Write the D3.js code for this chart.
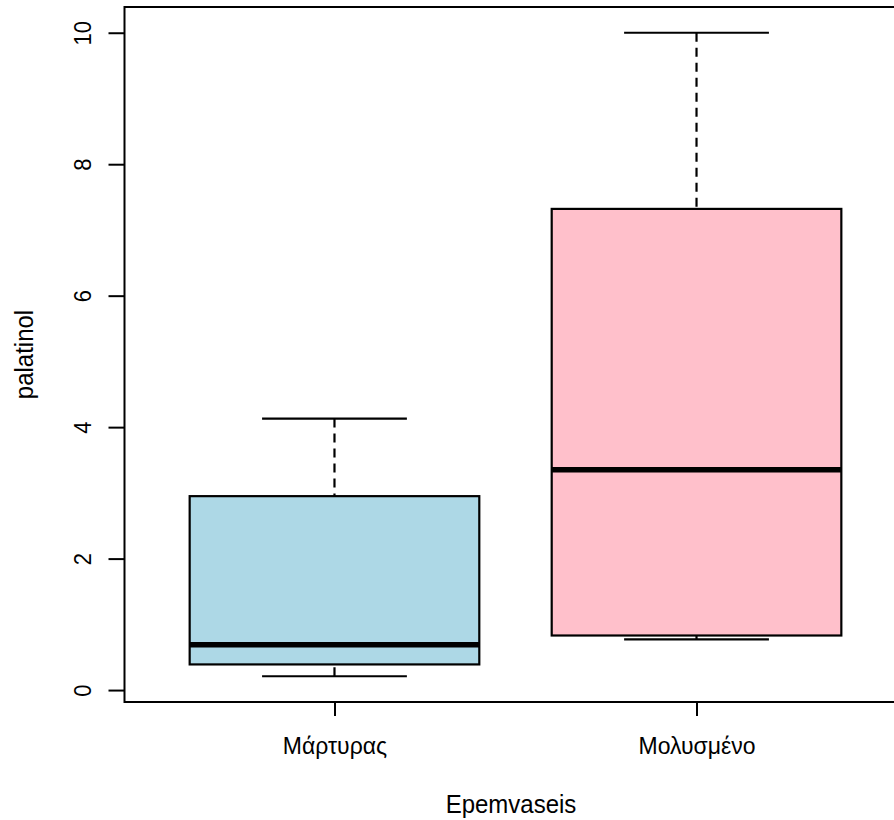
<!DOCTYPE html>
<html>
<head>
<meta charset="utf-8">
<script src="https://cdn.jsdelivr.net/npm/d3@7"></script>
<style>
  html, body { margin: 0; padding: 0; background: #fff; }
  svg { display: block; }
  text { font-family: "Liberation Sans", Arial, sans-serif; fill: #000; }
</style>
</head>
<body>
<svg id="chart" width="894" height="820"></svg>
<script>
// Groups and their five-number summaries
const groups = ["Μάρτυρας", "Μολυσμένο"];
const lowerWhisker = [0.21, 0.77];
const q1 = [0.39, 0.83];
const median = [0.69, 3.35];
const q3 = [2.95, 7.32];
const upperWhisker = [4.13, 10.0];
const fills = ["#ADD8E6", "#FFC0CB"];
const yTicks = [0, 2, 4, 6, 8, 10];

const xTitle = "Epemvaseis";
const yTitle = "palatinol";

const svg = d3.select("#chart");

// Axis ranges padded by 4% on each side, as in base graphics
const lo = d3.min(lowerWhisker), hi = d3.max(upperWhisker);
const pad = (hi - lo) * 0.04;
const y = d3.scaleLinear().domain([lo - pad, hi + pad]).range([702, 7]);
const x = d3.scaleLinear().domain([0.5 - 0.08, groups.length + 0.5 + 0.08]).range([124.5, 906.5]);

const boxHalf = (x(2) - x(1)) * 0.4;
const capHalf = boxHalf * 0.5;

const g = svg.append("g");

// Plot frame
g.append("rect")
  .attr("x", x.range()[0]).attr("y", y.range()[1])
  .attr("width", x.range()[1] - x.range()[0])
  .attr("height", y.range()[0] - y.range()[1])
  .attr("fill", "none").attr("stroke", "#000").attr("stroke-width", 2);

const boxes = g.selectAll("g.box").data(groups).join("g").attr("class", "box");

boxes.each(function(name, i) {
  const sel = d3.select(this);
  const cx = x(i + 1);
  // dashed whiskers
  sel.append("line")
    .attr("x1", cx).attr("x2", cx)
    .attr("y1", y(upperWhisker[i])).attr("y2", y(q3[i]))
    .attr("stroke", "#000").attr("stroke-width", 2.2).attr("stroke-dasharray", "9,6");
  sel.append("line")
    .attr("x1", cx).attr("x2", cx)
    .attr("y1", y(lowerWhisker[i])).attr("y2", y(q1[i]))
    .attr("stroke", "#000").attr("stroke-width", 2.2).attr("stroke-dasharray", "9,6");
  // staples
  [upperWhisker[i], lowerWhisker[i]].forEach(v => {
    sel.append("line")
      .attr("x1", cx - capHalf).attr("x2", cx + capHalf)
      .attr("y1", y(v)).attr("y2", y(v))
      .attr("stroke", "#000").attr("stroke-width", 2.2);
  });
  // box
  sel.append("rect")
    .attr("x", cx - boxHalf).attr("width", boxHalf * 2)
    .attr("y", y(q3[i])).attr("height", y(q1[i]) - y(q3[i]))
    .attr("fill", fills[i]).attr("stroke", "#000").attr("stroke-width", 2.2);
  // median
  sel.append("line")
    .attr("x1", cx - boxHalf).attr("x2", cx + boxHalf)
    .attr("y1", y(median[i])).attr("y2", y(median[i]))
    .attr("stroke", "#000").attr("stroke-width", 5.5);
});

// Y axis
const yAxis = d3.axisLeft(y).tickValues(yTicks).tickSize(16).tickPadding(0).tickFormat(d3.format("d"));
const ya = svg.append("g").attr("transform", `translate(${x.range()[0]},0)`).call(yAxis);
ya.select(".domain").remove();
ya.selectAll(".tick line").attr("stroke", "#000").attr("stroke-width", 2);
ya.selectAll(".tick text")
  .attr("x", null).attr("dy", null)
  .attr("transform", "translate(-34,0) rotate(-90) scale(1,1.08)")
  .attr("text-anchor", "middle")
  .style("font-size", "22px")
  .attr("fill", "#000");

// X axis
const xAxis = d3.axisBottom(x).tickValues(groups.map((d, i) => i + 1)).tickSize(14)
  .tickFormat((d) => groups[d - 1]);
const xa = svg.append("g").attr("transform", `translate(0,${y.range()[0]})`).call(xAxis);
xa.select(".domain").remove();
xa.selectAll(".tick line").attr("stroke", "#000").attr("stroke-width", 2);
xa.selectAll(".tick text")
  .attr("y", null).attr("dy", null)
  .attr("transform", "translate(0,52) scale(1,1.08)")
  .style("font-size", "23px")
  .attr("fill", "#000");

// Axis titles
svg.append("text")
  .attr("transform", "translate(511,813) scale(1,1.08)")
  .attr("text-anchor", "middle")
  .style("font-size", "24px")
  .text(xTitle);

svg.append("text")
  .attr("transform", `translate(33,${(y.range()[0] + y.range()[1]) / 2}) rotate(-90) scale(1,1.08)`)
  .attr("text-anchor", "middle")
  .style("font-size", "24px")
  .text(yTitle);
</script>
</body>
</html>
